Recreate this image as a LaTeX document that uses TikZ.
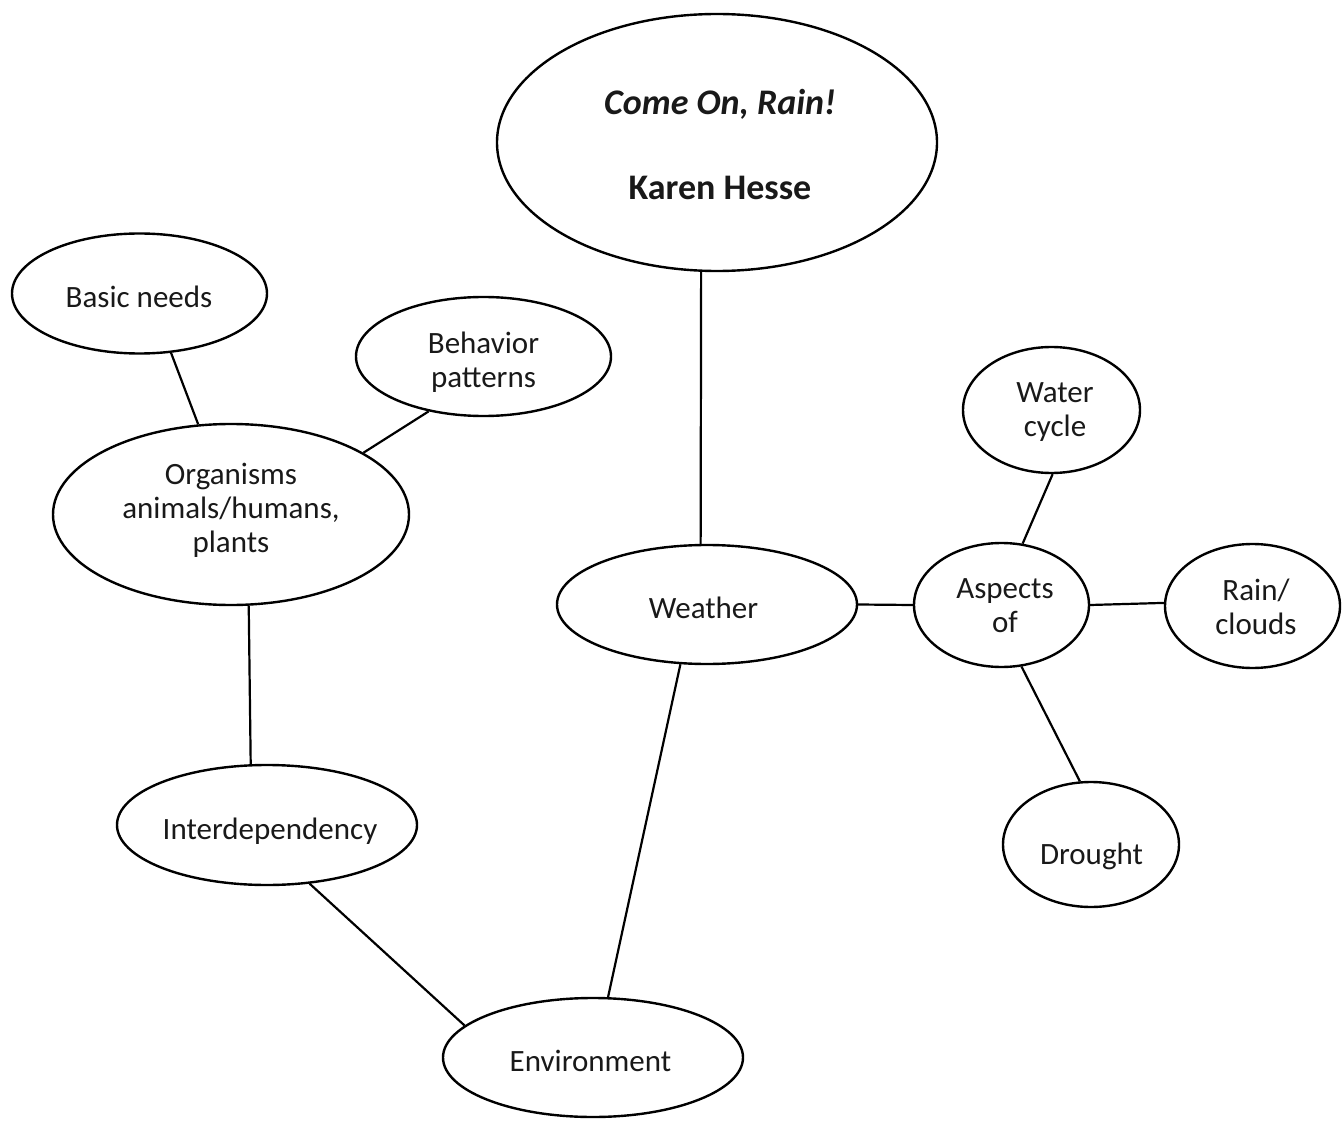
\documentclass[tikz,border=0pt]{standalone}
\usepackage{fontspec}
\setmainfont{Carlito}
\usetikzlibrary{shapes.geometric}
\begin{document}
\begin{tikzpicture}[x=1pt,y=-1pt,
  bubble/.style={draw=black, line width=2.4pt, ellipse, inner sep=0pt},
  lbl/.style={font=\fontsize{31}{34}\selectfont, align=center, inner sep=0pt, text=black!90},
  ttl/.style={font=\fontsize{36}{40}\selectfont, anchor=base, inner sep=0pt, text=black!90},
  link/.style={line width=2.2pt, draw=black}]
\useasboundingbox (0,0) rectangle (1342,1123);

% bubbles
\node[bubble, minimum width=440pt, minimum height=257pt] (title) at (717,142.5) {};
\node[bubble, minimum width=255pt, minimum height=120pt] (basic) at (139.5,293.5) {};
\node[bubble, minimum width=255pt, minimum height=119pt] (behavior) at (483.5,356.5) {};
\node[bubble, minimum width=356pt, minimum height=181pt] (organisms) at (231,514.5) {};
\node[bubble, minimum width=300pt, minimum height=119pt] (weather) at (707,604.5) {};
\node[bubble, minimum width=175pt, minimum height=124pt] (aspects) at (1001.5,605) {};
\node[bubble, minimum width=177pt, minimum height=126pt] (water) at (1051.5,410) {};
\node[bubble, minimum width=175pt, minimum height=124pt] (rain) at (1252.5,606) {};
\node[bubble, minimum width=176pt, minimum height=125pt] (drought) at (1091,844.5) {};
\node[bubble, minimum width=300pt, minimum height=120pt] (interdep) at (267,825) {};
\node[bubble, minimum width=300pt, minimum height=119pt] (environment) at (593,1057.5) {};

% texts
\node[ttl] (title-a) at (720,115) {\bfseries\itshape Come On, Rain!};
\node[ttl] (title-b) at (720,200) {\bfseries Karen Hesse};
\node[lbl] (basic-t) at (139,301) {\strut Basic needs};
\node[lbl] (behavior-t) at (483.5,364) {\strut Behavior\\\strut patterns};
\node[lbl] (organisms-t) at (231,512) {\strut Organisms\\\strut animals/humans,\\\strut plants};
\node[lbl] (weather-t) at (703.5,612) {\strut Weather};
\node[lbl] (aspects-t) at (1005,609) {\strut Aspects\\\strut of};
\node[lbl] (water-t) at (1055,413) {\strut Water\\\strut cycle};
\node[lbl] (rain-t) at (1256,611) {\strut Rain/\\\strut clouds};
\node[lbl] (drought-t) at (1091.5,857.5) {\strut Drought};
\node[lbl] (interdep-t) at (270,833) {\strut Interdependency};
\node[lbl] (environment-t) at (590.5,1065) {\strut Environment};

% connectors
\draw[link] (title.-97.3) -- (weather.96.3);
\draw[link] (basic.-62.1) -- (organisms.110.4);
\draw[link] (behavior.-135.5) -- (organisms.25.9);
\draw[link] (organisms.-79.3) -- (interdep.105.2);
\draw[link] (interdep.-54.7) -- (environment.166.8);
\draw[link] (weather.-114.5) -- (environment.76.1);
\draw[link] (weather.-0.9) -- (aspects.180);
\draw[link] (aspects.71.2) -- (water.-89.5);
\draw[link] (aspects.0.6) -- (rain.178);
\draw[link] (aspects.-72.1) -- (drought.100.6);
\end{tikzpicture}
\end{document}
